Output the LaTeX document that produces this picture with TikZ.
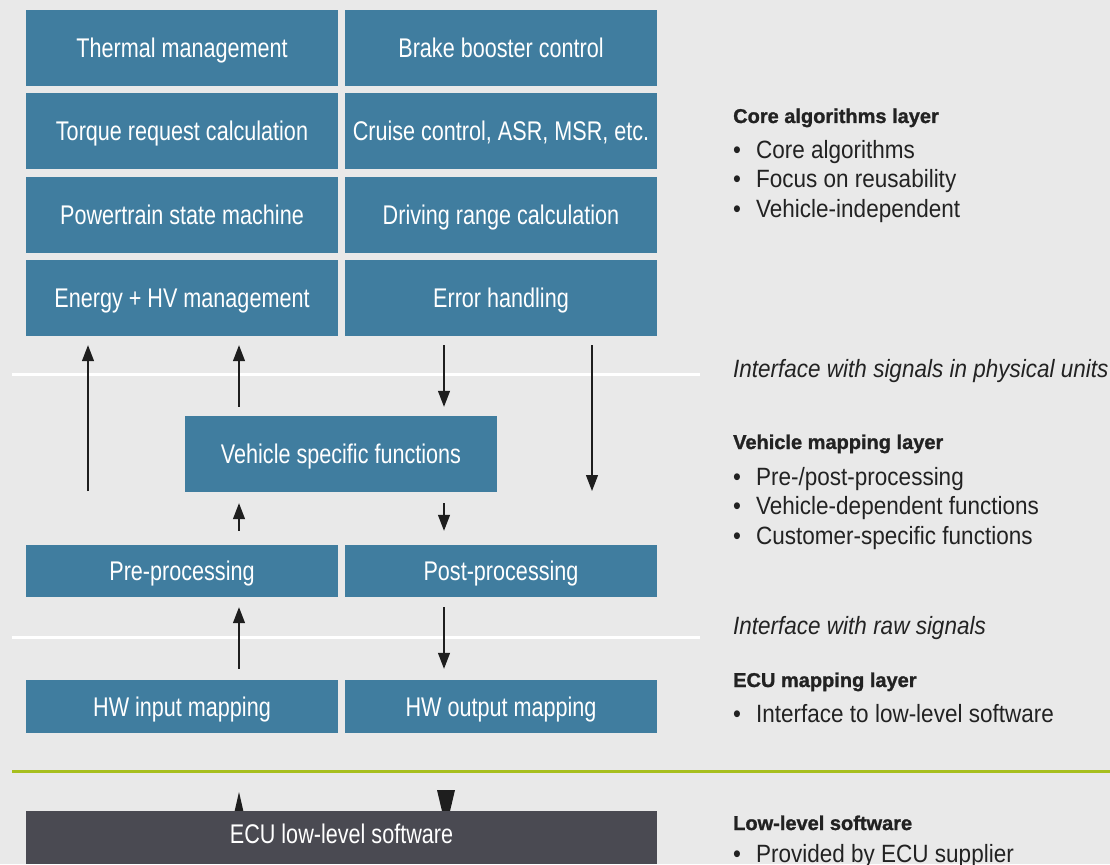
\documentclass[tikz,border=0pt]{standalone}
\usepackage{fontspec}
\setmainfont{Liberation Sans}
\newfontfamily\boxfont[FakeStretch=0.8]{Liberation Sans}
\newfontfamily\sidefont[FakeStretch=0.9]{Liberation Sans}
\newfontfamily\headfont[BoldFeatures={FakeBold=1.2}]{Liberation Sans}
\usetikzlibrary{arrows.meta}
\definecolor{bgGray}{HTML}{E9E9E9}
\definecolor{boxBlue}{HTML}{407D9F}
\definecolor{boxDark}{HTML}{4A4A52}
\definecolor{lineGreen}{HTML}{A7BF1E}
\definecolor{arrowBlack}{HTML}{1E1E1E}
\definecolor{textBlack}{HTML}{222222}
\newcommand{\itm}[1]{\makebox[23pt][l]{\textbullet}#1}
\begin{document}
\begin{tikzpicture}
        [x=1pt, y=-1pt,
        box/.style={rectangle, fill=boxBlue, text=white, minimum width=312pt, minimum height=76pt, inner sep=0pt,
            text height=19pt, text depth=0pt, font=\boxfont\fontsize{27}{32}\selectfont},
        boxLow/.style={box, minimum height=52pt},
        boxDark/.style={box, fill=boxDark, minimum width=631pt, minimum height=53pt, text depth=8pt},
        arr/.style={draw=arrowBlack, line width=1.2pt, -{Triangle[width=12pt,length=16pt]}},
        head/.style={fill=arrowBlack},
        sep/.style={draw=white, line width=3pt},
        layer/.style={anchor=base west, inner sep=0pt, text=textBlack, font=\headfont\bfseries\fontsize{20}{24}\selectfont},
        bul/.style={anchor=base west, inner sep=0pt, text=textBlack, font=\sidefont\fontsize{25}{30}\selectfont},
        iface/.style={bul, font=\sidefont\itshape\fontsize{25}{30}\selectfont}]
        \fill[bgGray] (0,0) rectangle (1110,864);
        \useasboundingbox (0,0) rectangle (1110,864);

        % core algorithms layer
        \node[box] (thermal) at (182,48) {Thermal management};
        \node[box] (brake) at (501,48) {Brake booster control};
        \node[box] (torque) at (182,131) {Torque request calculation};
        \node[box] (cruise) at (501,131) {Cruise control, ASR, MSR, etc.};
        \node[box] (state) at (182,215) {Powertrain state machine};
        \node[box] (range) at (501,215) {Driving range calculation};
        \node[box] (energy) at (182,298) {Energy + HV management};
        \node[box] (error) at (501,298) {Error handling};

        % vehicle mapping layer
        \node[box] (vehicle) at (341,454) {Vehicle specific functions};
        \node[boxLow] (pre) at (182,571) {Pre-processing};
        \node[boxLow] (post) at (501,571) {Post-processing};

        % ECU mapping layer
        \node[boxLow, minimum height=53pt] (hwin) at (182,706.5) {HW input mapping};
        \node[boxLow, minimum height=53pt] (hwout) at (501,706.5) {HW output mapping};

        \draw[sep] (12,374) -- (700,374);
        \draw[sep] (12,637) -- (700,637);
        \draw[draw=lineGreen, line width=3pt] (12,771) -- (1110,771);

        \coordinate (u) at (239,0);
        \coordinate (d) at (444,0);
        \coordinate (p1) at (88,491);
        \coordinate (p2) at (592,491);

        \draw[arr, shorten >=9pt] (p1) -- (p1 |- energy.south);
        \draw[arr, shorten <=9pt, shorten >=9pt] (vehicle.north -| u) -- (energy.south -| u);
        \draw[arr, shorten <=9pt, shorten >=9pt] (error.south -| d) -- (vehicle.north -| d);
        \draw[arr, shorten <=9pt] (error.south -| p2) -- (p2);

        \draw[arr, shorten <=14pt, shorten >=11pt] (pre.north -| u) -- (vehicle.south -| u);
        \draw[arr, shorten <=11pt, shorten >=14pt] (vehicle.south -| d) -- (post.north -| d);
        \draw[arr, shorten <=11pt, shorten >=10pt] (hwin.north -| u) -- (pre.south -| u);
        \draw[arr, shorten <=10pt, shorten >=11pt] (post.south -| d) -- (hwout.north -| d);

        % low-level software
        \fill[head] (239,792) -- (244.5,816) -- (233.5,816) -- cycle;
        \fill[head] (437,790) -- (455,790) -- (446,828) -- cycle;
        \node[boxDark] (ecu) at (341.5,837.5) {ECU low-level software};

        % layer descriptions
        \node[layer] (coreT) at (733,123) {Core algorithms layer};
        \foreach \t [count=\i] in {Core algorithms, Focus on reusability, Vehicle-independent}
            \node[bul] (core\i) at (733,128.5+29.5*\i) {\itm{\t}};
        \node[iface] (physT) at (733,377) {Interface with signals in physical units};
        \node[layer] (vehT) at (733,449) {Vehicle mapping layer};
        \foreach \t [count=\i] in {Pre-/post-processing, Vehicle-dependent functions, Customer-specific functions}
            \node[bul] (veh\i) at (733,455.5+29.5*\i) {\itm{\t}};
        \node[iface] (rawT) at (733,634) {Interface with raw signals};
        \node[layer] (ecuT) at (733,687) {ECU mapping layer};
        \node[bul] (ecu1) at (733,722) {\itm{Interface to low-level software}};
        \node[layer] (lowT) at (733,830) {Low-level software};
        \node[bul] (low1) at (733,862) {\itm{Provided by ECU supplier}};

\end{tikzpicture}
\end{document}
